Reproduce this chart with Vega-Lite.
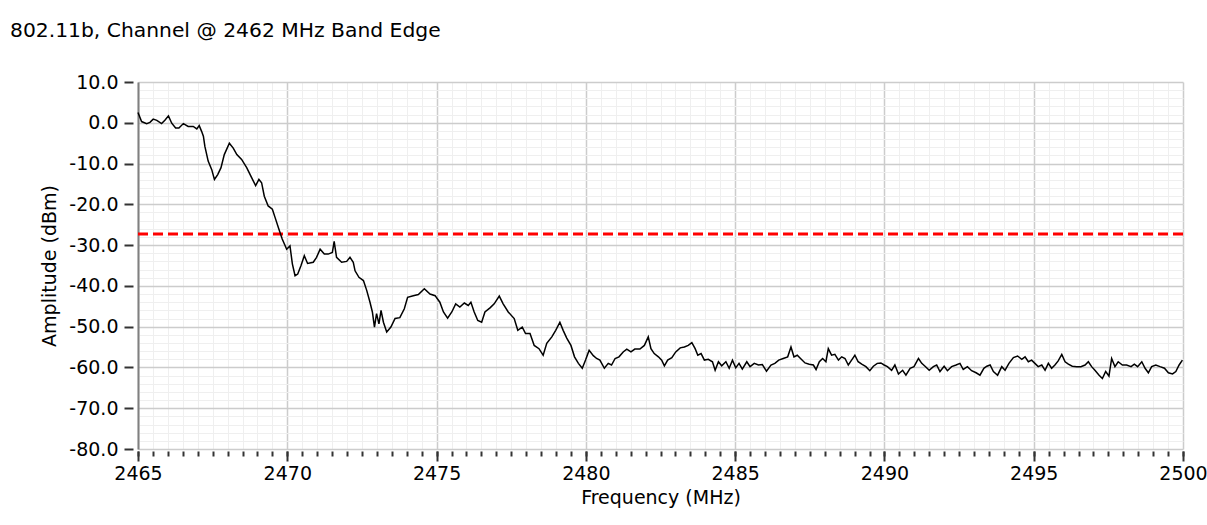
{
  "$schema": "https://vega.github.io/schema/vega-lite/v6.json",
  "width": 1045,
  "height": 367,
  "autosize": {"type": "none"},
  "padding": {"left": 138, "top": 82, "right": 24, "bottom": 76},
  "background": "white",
  "config": {
    "font": "DejaVu Sans",
    "view": {"stroke": null},
    "axis": {"labelFont": "DejaVu Sans", "titleFont": "DejaVu Sans", "labelColor": "#000", "titleColor": "#000", "labelFontSize": 19, "titleFontSize": 19, "titleFontWeight": "normal", "labelFlush": false}
  },
  "title": {"text": "802.11b, Channel @ 2462 MHz Band Edge", "anchor": "start", "frame": "group", "dx": -128, "offset": 32, "fontSize": 20.3, "fontWeight": "normal", "color": "#000", "font": "DejaVu Sans"},
  "datasets": {
    "trace": [
      {"freq": 2465.0, "amp": 2.5}, {"freq": 2465.12, "amp": 0.3}, {"freq": 2465.29, "amp": -0.2}, {"freq": 2465.4, "amp": 0.1}, {"freq": 2465.51, "amp": 0.9}, {"freq": 2465.63, "amp": 0.6}, {"freq": 2465.79, "amp": -0.2}, {"freq": 2465.9, "amp": 0.6}, {"freq": 2466.02, "amp": 1.7}, {"freq": 2466.13, "amp": -0.1}, {"freq": 2466.26, "amp": -1.3}, {"freq": 2466.37, "amp": -1.3}, {"freq": 2466.52, "amp": -0.2}, {"freq": 2466.68, "amp": -0.9}, {"freq": 2466.85, "amp": -0.9}, {"freq": 2466.97, "amp": -1.5}, {"freq": 2467.05, "amp": -0.7}, {"freq": 2467.13, "amp": -2.1}, {"freq": 2467.19, "amp": -3.3}, {"freq": 2467.24, "amp": -5.8}, {"freq": 2467.35, "amp": -9.4}, {"freq": 2467.47, "amp": -11.5}, {"freq": 2467.56, "amp": -13.9}, {"freq": 2467.67, "amp": -12.7}, {"freq": 2467.78, "amp": -11.0}, {"freq": 2467.89, "amp": -7.8}, {"freq": 2468.06, "amp": -5.0}, {"freq": 2468.19, "amp": -6.2}, {"freq": 2468.31, "amp": -7.8}, {"freq": 2468.47, "amp": -9.0}, {"freq": 2468.64, "amp": -11.0}, {"freq": 2468.81, "amp": -13.5}, {"freq": 2468.94, "amp": -15.4}, {"freq": 2469.05, "amp": -13.9}, {"freq": 2469.14, "amp": -14.7}, {"freq": 2469.23, "amp": -18.0}, {"freq": 2469.36, "amp": -20.4}, {"freq": 2469.5, "amp": -21.2}, {"freq": 2469.59, "amp": -23.2}, {"freq": 2469.72, "amp": -26.1}, {"freq": 2469.83, "amp": -28.5}, {"freq": 2469.98, "amp": -31.0}, {"freq": 2470.09, "amp": -30.2},
      {"freq": 2470.17, "amp": -34.6}, {"freq": 2470.26, "amp": -37.5}, {"freq": 2470.35, "amp": -37.1}, {"freq": 2470.46, "amp": -35.0}, {"freq": 2470.57, "amp": -32.6}, {"freq": 2470.68, "amp": -34.5}, {"freq": 2470.87, "amp": -34.2}, {"freq": 2470.98, "amp": -33.0}, {"freq": 2471.1, "amp": -31.0}, {"freq": 2471.24, "amp": -32.2}, {"freq": 2471.37, "amp": -32.2}, {"freq": 2471.51, "amp": -31.8}, {"freq": 2471.57, "amp": -29.1}, {"freq": 2471.65, "amp": -33.0}, {"freq": 2471.82, "amp": -34.2}, {"freq": 2471.99, "amp": -34.0}, {"freq": 2472.1, "amp": -33.0}, {"freq": 2472.21, "amp": -34.2}, {"freq": 2472.27, "amp": -36.3}, {"freq": 2472.4, "amp": -37.9}, {"freq": 2472.55, "amp": -38.7}, {"freq": 2472.66, "amp": -41.1}, {"freq": 2472.77, "amp": -44.0}, {"freq": 2472.85, "amp": -46.4}, {"freq": 2472.92, "amp": -50.1}, {"freq": 2472.99, "amp": -46.8}, {"freq": 2473.07, "amp": -49.3}, {"freq": 2473.14, "amp": -46.0}, {"freq": 2473.22, "amp": -48.9}, {"freq": 2473.33, "amp": -51.3}, {"freq": 2473.47, "amp": -50.1}, {"freq": 2473.61, "amp": -48.0}, {"freq": 2473.77, "amp": -47.8}, {"freq": 2473.92, "amp": -45.6}, {"freq": 2474.03, "amp": -42.8}, {"freq": 2474.22, "amp": -42.4}, {"freq": 2474.39, "amp": -42.1}, {"freq": 2474.59, "amp": -40.7}, {"freq": 2474.78, "amp": -42.0}, {"freq": 2474.95, "amp": -42.4},
      {"freq": 2475.11, "amp": -44.0}, {"freq": 2475.23, "amp": -46.4}, {"freq": 2475.37, "amp": -47.9}, {"freq": 2475.51, "amp": -46.4}, {"freq": 2475.64, "amp": -44.4}, {"freq": 2475.78, "amp": -45.2}, {"freq": 2475.93, "amp": -44.2}, {"freq": 2476.06, "amp": -44.8}, {"freq": 2476.15, "amp": -44.0}, {"freq": 2476.26, "amp": -46.4}, {"freq": 2476.38, "amp": -48.5}, {"freq": 2476.51, "amp": -48.9}, {"freq": 2476.62, "amp": -46.4}, {"freq": 2476.79, "amp": -45.4}, {"freq": 2476.93, "amp": -44.4}, {"freq": 2477.1, "amp": -42.5}, {"freq": 2477.23, "amp": -44.4}, {"freq": 2477.4, "amp": -46.4}, {"freq": 2477.6, "amp": -48.0}, {"freq": 2477.72, "amp": -50.9}, {"freq": 2477.87, "amp": -50.1}, {"freq": 2477.98, "amp": -51.7}, {"freq": 2478.13, "amp": -51.7}, {"freq": 2478.27, "amp": -54.6}, {"freq": 2478.43, "amp": -55.4}, {"freq": 2478.57, "amp": -57.0}, {"freq": 2478.69, "amp": -54.1}, {"freq": 2478.86, "amp": -52.5}, {"freq": 2478.99, "amp": -50.9}, {"freq": 2479.13, "amp": -48.9}, {"freq": 2479.24, "amp": -50.9}, {"freq": 2479.36, "amp": -52.8}, {"freq": 2479.5, "amp": -54.6}, {"freq": 2479.62, "amp": -57.4}, {"freq": 2479.75, "amp": -59.0}, {"freq": 2479.88, "amp": -60.2}, {"freq": 2479.99, "amp": -58.2}, {"freq": 2480.11, "amp": -55.8}, {"freq": 2480.25, "amp": -57.1},
      {"freq": 2480.36, "amp": -57.8}, {"freq": 2480.47, "amp": -58.2}, {"freq": 2480.62, "amp": -60.2}, {"freq": 2480.75, "amp": -59.0}, {"freq": 2480.86, "amp": -59.4}, {"freq": 2480.98, "amp": -57.8}, {"freq": 2481.11, "amp": -57.4}, {"freq": 2481.25, "amp": -56.2}, {"freq": 2481.37, "amp": -55.5}, {"freq": 2481.51, "amp": -56.2}, {"freq": 2481.64, "amp": -55.5}, {"freq": 2481.81, "amp": -55.5}, {"freq": 2481.96, "amp": -54.6}, {"freq": 2482.09, "amp": -52.5}, {"freq": 2482.18, "amp": -55.4}, {"freq": 2482.29, "amp": -56.6}, {"freq": 2482.43, "amp": -57.4}, {"freq": 2482.54, "amp": -58.2}, {"freq": 2482.63, "amp": -59.6}, {"freq": 2482.74, "amp": -58.2}, {"freq": 2482.88, "amp": -57.6}, {"freq": 2483.01, "amp": -56.2}, {"freq": 2483.16, "amp": -55.2}, {"freq": 2483.3, "amp": -55.0}, {"freq": 2483.43, "amp": -54.6}, {"freq": 2483.55, "amp": -53.9}, {"freq": 2483.66, "amp": -55.4}, {"freq": 2483.75, "amp": -57.0}, {"freq": 2483.86, "amp": -56.6}, {"freq": 2483.97, "amp": -58.2}, {"freq": 2484.1, "amp": -58.0}, {"freq": 2484.24, "amp": -58.6}, {"freq": 2484.33, "amp": -60.7}, {"freq": 2484.44, "amp": -58.6}, {"freq": 2484.55, "amp": -59.6}, {"freq": 2484.69, "amp": -58.6}, {"freq": 2484.8, "amp": -60.2}, {"freq": 2484.91, "amp": -58.2}, {"freq": 2485.02, "amp": -60.1}, {"freq": 2485.13, "amp": -59.0}, {"freq": 2485.24, "amp": -60.4}, {"freq": 2485.39, "amp": -58.6}, {"freq": 2485.5, "amp": -59.8}, {"freq": 2485.64, "amp": -59.0}, {"freq": 2485.78, "amp": -59.4}, {"freq": 2485.91, "amp": -59.3}, {"freq": 2486.05, "amp": -60.9}, {"freq": 2486.2, "amp": -59.4}, {"freq": 2486.33, "amp": -59.0}, {"freq": 2486.46, "amp": -58.2}, {"freq": 2486.61, "amp": -57.8}, {"freq": 2486.76, "amp": -57.4}, {"freq": 2486.87, "amp": -55.0},
      {"freq": 2486.97, "amp": -57.4}, {"freq": 2487.08, "amp": -57.0}, {"freq": 2487.19, "amp": -57.8}, {"freq": 2487.34, "amp": -58.9}, {"freq": 2487.48, "amp": -59.2}, {"freq": 2487.62, "amp": -59.4}, {"freq": 2487.71, "amp": -60.5}, {"freq": 2487.82, "amp": -58.6}, {"freq": 2487.93, "amp": -57.8}, {"freq": 2488.04, "amp": -58.6}, {"freq": 2488.12, "amp": -55.4}, {"freq": 2488.23, "amp": -57.0}, {"freq": 2488.34, "amp": -56.8}, {"freq": 2488.46, "amp": -58.2}, {"freq": 2488.57, "amp": -57.4}, {"freq": 2488.68, "amp": -57.8}, {"freq": 2488.79, "amp": -59.4}, {"freq": 2488.9, "amp": -58.2}, {"freq": 2489.01, "amp": -57.0}, {"freq": 2489.12, "amp": -58.6}, {"freq": 2489.24, "amp": -59.2}, {"freq": 2489.38, "amp": -59.8}, {"freq": 2489.51, "amp": -60.8}, {"freq": 2489.63, "amp": -59.7}, {"freq": 2489.76, "amp": -59.0}, {"freq": 2489.88, "amp": -58.9}, {"freq": 2489.99, "amp": -59.4}, {"freq": 2490.1, "amp": -59.8}, {"freq": 2490.24, "amp": -60.7}, {"freq": 2490.35, "amp": -59.4}, {"freq": 2490.47, "amp": -61.6}, {"freq": 2490.61, "amp": -60.7}, {"freq": 2490.72, "amp": -61.9}, {"freq": 2490.86, "amp": -60.2}, {"freq": 2490.99, "amp": -59.8}, {"freq": 2491.14, "amp": -57.8}, {"freq": 2491.25, "amp": -59.0}, {"freq": 2491.36, "amp": -59.7}, {"freq": 2491.5, "amp": -60.7}, {"freq": 2491.64, "amp": -59.8}, {"freq": 2491.75, "amp": -59.4}, {"freq": 2491.86, "amp": -61.0}, {"freq": 2492.0, "amp": -59.7}, {"freq": 2492.11, "amp": -60.8}, {"freq": 2492.25, "amp": -59.8}, {"freq": 2492.4, "amp": -59.4}, {"freq": 2492.53, "amp": -59.0}, {"freq": 2492.64, "amp": -60.5}, {"freq": 2492.78, "amp": -59.8}, {"freq": 2492.92, "amp": -60.8}, {"freq": 2493.07, "amp": -61.3}, {"freq": 2493.2, "amp": -61.9}, {"freq": 2493.33, "amp": -60.2},
      {"freq": 2493.43, "amp": -59.7}, {"freq": 2493.54, "amp": -59.4}, {"freq": 2493.65, "amp": -61.0}, {"freq": 2493.79, "amp": -61.9}, {"freq": 2493.93, "amp": -59.8}, {"freq": 2494.04, "amp": -60.7}, {"freq": 2494.17, "amp": -59.0}, {"freq": 2494.32, "amp": -57.6}, {"freq": 2494.46, "amp": -57.2}, {"freq": 2494.6, "amp": -58.0}, {"freq": 2494.71, "amp": -57.4}, {"freq": 2494.82, "amp": -58.6}, {"freq": 2494.93, "amp": -58.2}, {"freq": 2495.04, "amp": -59.0}, {"freq": 2495.15, "amp": -59.8}, {"freq": 2495.27, "amp": -59.4}, {"freq": 2495.38, "amp": -60.7}, {"freq": 2495.49, "amp": -59.0}, {"freq": 2495.6, "amp": -60.2}, {"freq": 2495.71, "amp": -59.4}, {"freq": 2495.82, "amp": -58.4}, {"freq": 2495.94, "amp": -56.8}, {"freq": 2496.05, "amp": -58.6}, {"freq": 2496.16, "amp": -59.2}, {"freq": 2496.29, "amp": -59.7}, {"freq": 2496.44, "amp": -59.8}, {"freq": 2496.58, "amp": -59.8}, {"freq": 2496.72, "amp": -59.4}, {"freq": 2496.83, "amp": -58.6}, {"freq": 2496.94, "amp": -59.8}, {"freq": 2497.05, "amp": -60.7}, {"freq": 2497.19, "amp": -61.9}, {"freq": 2497.3, "amp": -62.7}, {"freq": 2497.41, "amp": -61.0}, {"freq": 2497.52, "amp": -62.1}, {"freq": 2497.61, "amp": -57.8}, {"freq": 2497.72, "amp": -59.8}, {"freq": 2497.83, "amp": -58.6}, {"freq": 2497.97, "amp": -59.4}, {"freq": 2498.11, "amp": -59.4}, {"freq": 2498.26, "amp": -59.8}, {"freq": 2498.37, "amp": -59.2}, {"freq": 2498.48, "amp": -59.8}, {"freq": 2498.62, "amp": -58.6}, {"freq": 2498.73, "amp": -60.2}, {"freq": 2498.84, "amp": -61.3}, {"freq": 2498.95, "amp": -59.8}, {"freq": 2499.09, "amp": -59.4}, {"freq": 2499.23, "amp": -59.8}, {"freq": 2499.38, "amp": -60.2}, {"freq": 2499.51, "amp": -61.3}, {"freq": 2499.65, "amp": -61.6}, {"freq": 2499.76, "amp": -61.0}, {"freq": 2499.87, "amp": -59.4}, {"freq": 2499.98, "amp": -58.2}
    ],
    "limit": [{"limit": -27.3}]
  },
  "layer": [
    {
      "data": {"name": "trace"},
      "mark": {"type": "line", "opacity": 0},
      "encoding": {
        "x": {"field": "freq", "type": "quantitative", "scale": {"domain": [2465, 2500], "nice": false, "zero": false},
          "axis": {"orient": "bottom", "values": [2465,2465.5,2466,2466.5,2467,2467.5,2468,2468.5,2469,2469.5,2470,2470.5,2471,2471.5,2472,2472.5,2473,2473.5,2474,2474.5,2475,2475.5,2476,2476.5,2477,2477.5,2478,2478.5,2479,2479.5,2480,2480.5,2481,2481.5,2482,2482.5,2483,2483.5,2484,2484.5,2485,2485.5,2486,2486.5,2487,2487.5,2488,2488.5,2489,2489.5,2490,2490.5,2491,2491.5,2492,2492.5,2493,2493.5,2494,2494.5,2495,2495.5,2496,2496.5,2497,2497.5,2498,2498.5,2499,2499.5,2500],
            "grid": true, "gridColor": "#efefef", "gridWidth": 1, "labels": false, "title": null, "domain": false, "ticks": true, "tickSize": 5, "tickColor": "#333333", "tickWidth": 2, "offset": 2}},
        "y": {"field": "amp", "type": "quantitative", "scale": {"domain": [-80, 10], "nice": false, "zero": false},
          "axis": {"orient": "left", "values": [-80,-78,-76,-74,-72,-70,-68,-66,-64,-62,-60,-58,-56,-54,-52,-50,-48,-46,-44,-42,-40,-38,-36,-34,-32,-30,-28,-26,-24,-22,-20,-18,-16,-14,-12,-10,-8,-6,-4,-2,0,2,4,6,8,10],
            "grid": true, "gridColor": "#efefef", "gridWidth": 1, "labels": false, "ticks": false, "title": null, "domain": true, "domainColor": "#808080", "domainWidth": 2}}
      }
    },
    {
      "data": {"name": "trace"},
      "mark": {"type": "line", "opacity": 0},
      "encoding": {
        "x": {"field": "freq", "type": "quantitative", "scale": {"domain": [2465, 2500], "nice": false, "zero": false},
          "axis": {"orient": "bottom", "values": [2465, 2470, 2475, 2480, 2485, 2490, 2495, 2500], "format": "d", "grid": true, "gridColor": "#cccccc", "gridWidth": 1.5, "domain": false, "tickSize": 10, "tickWidth": 2, "tickColor": "#333333", "offset": 2, "labelPadding": 3, "title": "Frequency (MHz)", "titlePadding": 5}},
        "y": {"field": "amp", "type": "quantitative", "scale": {"domain": [-80, 10], "nice": false, "zero": false},
          "axis": {"orient": "left", "values": [-80, -70, -60, -50, -40, -30, -20, -10, 0, 10], "labelExpr": "(datum.value < 0 ? '-' : '') + format(abs(datum.value), '.1f')", "grid": true, "gridColor": "#cccccc", "gridWidth": 1.5, "domain": false, "tickSize": 9, "tickWidth": 2, "tickColor": "#333333", "offset": 5, "labelPadding": 6, "title": "Amplitude (dBm)", "titlePadding": 9}}
      }
    },
    {
      "data": {"name": "limit"},
      "mark": {"type": "rule", "color": "#ff0000", "strokeWidth": 3, "strokeDash": [10, 5]},
      "encoding": {"y": {"field": "limit", "type": "quantitative", "axis": null}}
    },
    {
      "data": {"name": "trace"},
      "mark": {"type": "line", "color": "#000000", "strokeWidth": 1.5},
      "encoding": {
        "x": {"field": "freq", "type": "quantitative", "axis": null},
        "y": {"field": "amp", "type": "quantitative", "axis": null}
      }
    }
  ],
  "resolve": {"axis": {"x": "independent", "y": "independent"}}
}
